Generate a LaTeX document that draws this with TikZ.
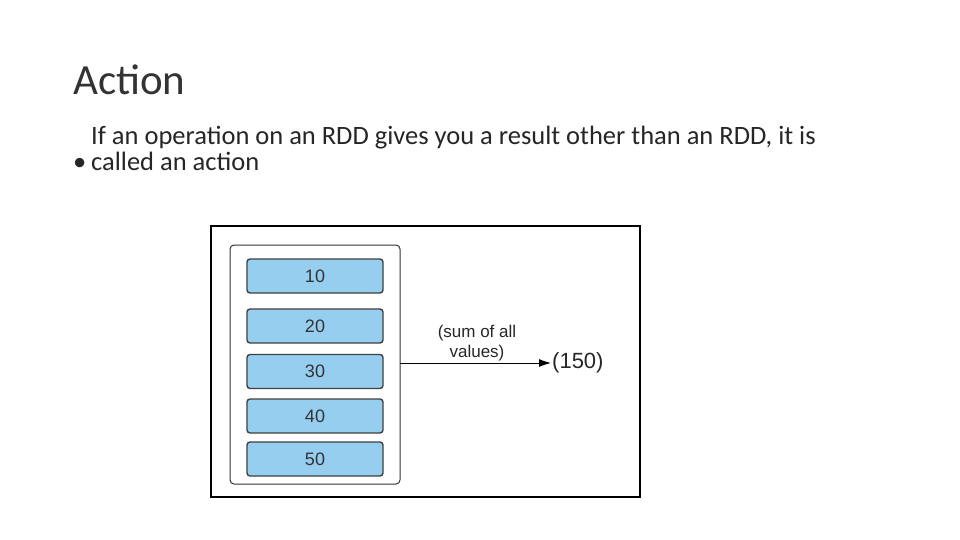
\documentclass[tikz,border=0pt]{standalone}
\usepackage{fontspec}
\usetikzlibrary{arrows.meta}
\setmainfont{Carlito}
\newfontfamily\arialf{Liberation Sans}
\begin{document}
\begin{tikzpicture}[x=1pt,y=-1pt,
  val/.style={draw=black!75,line width=1.4pt,rounded corners=3pt,fill={rgb,255:red,150;green,206;blue,240},minimum width=136pt,minimum height=34pt,font=\arialf\fontsize{18}{20}\selectfont,text=black!80},
  lbl/.style={font=\arialf\fontsize{17}{20}\selectfont,text=black!85,align=center}]
\useasboundingbox (0,0) rectangle (960,540);
\node[anchor=base west,font=\fontsize{43}{48}\selectfont,text=black!80,inner xsep=0pt] (title) at (73,95) {Action};
\node[anchor=base west,font=\fontsize{26.5}{30}\selectfont,text=black!85,inner xsep=0pt] (b) at (73,171) {•};
\node[anchor=base west,font=\fontsize{26.5}{30}\selectfont,text=black!85,align=left,inner xsep=0pt] (t) at (91,171) {If an operation on an RDD gives you a result other than an RDD, it is\\[-4pt]called an action};
\draw[line width=1.2pt] (211,226) rectangle (640,497);
\node[draw=black!80,line width=1pt,rounded corners=4pt,minimum width=170pt,minimum height=239pt,fill=white] (rdd) at (315,364.5) {};
\node[val] (v1) at (315,276) {10};
\node[val] (v2) at (315,326) {20};
\node[val] (v3) at (315,371.5) {30};
\node[val] (v4) at (315,416) {40};
\node[val] (v5) at (315,459) {50};
\coordinate (s) at (400,363);
\node[anchor=west,font=\arialf\fontsize{22}{24}\selectfont,text=black!85,inner sep=1pt] (res) at (551,363) {(150)};
\draw[line width=1pt,-{Latex[length=12pt,width=8pt]}] (s) -- (res.west);
\node[lbl] (l) at (477,343) {(sum of all\\values)};
\end{tikzpicture}
\end{document}
